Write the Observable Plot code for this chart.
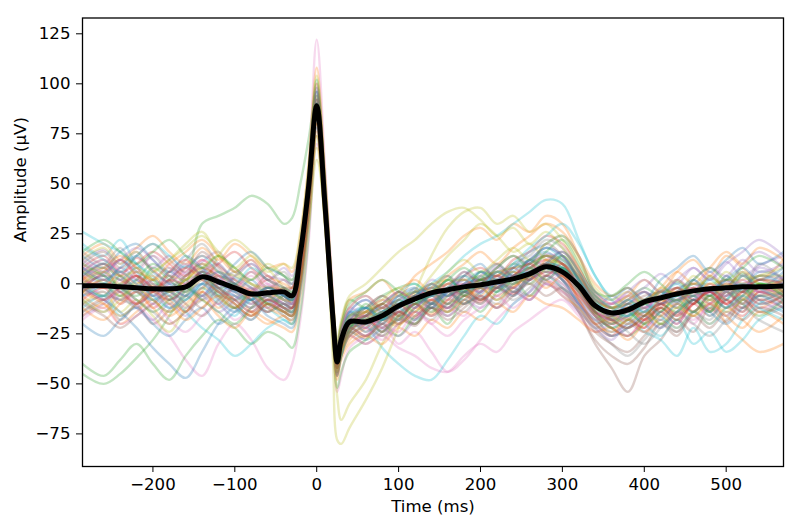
<!DOCTYPE html>
<html><head><meta charset="utf-8">
<script src="https://cdn.jsdelivr.net/npm/d3@7"></script>
<script src="https://cdn.jsdelivr.net/npm/@observablehq/plot@0.6"></script>
<style>body{margin:0;background:#fff}</style>
</head><body><div id="chart"></div>
<script>
const timesMs = [-286,-260,-240,-220,-200,-180,-160,-140,-120,-100,-80,-60,-40,-30,-20,-10,0,10,20,25,30,40,60,80,100,120,140,160,180,200,220,240,260,280,300,320,340,360,380,400,420,440,460,480,500,520,540,570];
const meanTrace = [-1,-1,-1.5,-2,-2.5,-2.5,-1.5,3.5,1,-2,-5,-4.5,-4,-6,15,48,89,40,-18,-39,-28,-19,-19,-16,-11,-7.5,-4.5,-3,-1.5,-0.5,1,2.5,5,8.5,6,-1,-11,-14.5,-13,-9,-7,-5,-3.5,-2.5,-2,-1.5,-1.5,-1];
const epochTraces = [
[8,5,12,6,-3,2,9,4,-6,3,-2,-9,-3,-6,12,46,92,44,-15,-36,-27,-15,-12,-20,-8,-3,-12,-4,2,-5,6,3,12,9,14,2,-8,-17,-10,-14,-3,-9,2,-6,4,-3,6,3],
[-6,-12,-4,-10,-1,-8,-14,-2,-7,-12,-4,-10,-14,-12,4,40,84,38,-22,-43,-33,-24,-27,-18,-21,-12,-15,-8,-10,0,-6,-1,3,10,2,-6,-15,-19,-12,-16,-8,-12,-4,-10,-2,-7,-12,-5],
[-45,-50,-45,-37,-28,-16,-2,30,34,38,44,40,30,33,50,72,96,52,-10,-32,-22,-8,-12,-6,-2,0,-5,2,-3,6,4,10,7,14,8,3,-6,-12,-8,-2,-6,1,-4,3,-1,5,0,2],
[3,10,4,13,7,1,8,14,9,2,-3,4,-5,-8,10,44,88,40,-20,-42,-30,-22,-16,-24,-14,-17,-10,-12,-6,-9,-2,-5,2,6,4,-4,-14,-20,-17,-22,-10,-15,-8,-13,-4,-10,-2,-6],
[12,17,10,16,8,14,5,11,16,6,12,2,8,4,22,55,100,50,-12,-34,-24,-14,-8,-12,-4,-8,2,-2,6,1,9,4,11,15,12,4,-6,-10,-6,-2,5,0,8,2,11,4,9,14],
[-14,-8,-18,-11,-20,-13,-6,-12,-3,-10,-16,-8,-12,-15,0,36,78,32,-24,-45,-36,-26,-22,-26,-17,-21,-12,-16,-10,-7,-12,-4,-8,1,-3,-14,-30,-42,-54,-36,-28,-18,-24,-12,-19,-8,-14,-11],
[4,-6,2,-10,-18,-26,-38,-46,-30,-20,-28,-42,-48,-40,-18,20,70,36,-30,-54,-46,-32,-26,-20,-30,-24,-34,-44,-38,-28,-18,-10,-4,2,-2,-10,-20,-16,-12,-20,-10,-6,-14,-4,2,-8,-2,-6],
[0,6,-2,4,-6,1,-4,7,2,-3,-8,-1,-6,-9,8,42,86,38,-20,-40,-30,-21,-17,-12,-15,-6,-9,-2,-5,3,-1,6,2,11,7,-2,-13,-17,-14,-10,-6,-9,-2,-6,1,-4,2,0],
[-10,-4,-14,-8,-16,-24,-12,-4,14,22,16,8,-2,-6,6,30,62,34,-40,-78,-80,-72,-58,-42,-22,-4,14,28,36,38,30,34,26,30,22,8,-6,-12,-18,-10,-14,-4,-10,-2,-8,0,-6,-3],
[20,14,22,10,4,-8,-2,6,-4,-12,-6,-14,-10,-14,6,40,90,44,-16,-38,-26,-14,-20,-32,-40,-46,-48,-38,-26,-16,-20,-10,-4,4,-2,-8,-16,-22,-18,-24,-28,-36,-22,-34,-30,-18,-10,-4],
[-2,-8,-14,-22,-32,-40,-47,-34,-20,-12,-18,-10,-16,-18,2,38,82,36,-22,-44,-32,-24,-28,-22,-18,-10,-14,-6,-2,4,-2,8,12,16,10,0,-10,-16,-12,-8,-14,-6,-10,-2,-8,4,-2,6],
[14,20,12,18,24,16,10,18,12,20,14,8,10,6,24,60,108,56,-8,-30,-20,-8,-4,2,-6,4,10,16,24,28,22,30,26,34,30,14,-4,-10,-6,2,-4,6,12,4,14,8,2,12],
[-40,-46,-38,-30,-40,-48,-36,-26,-18,-22,-30,-24,-28,-32,-14,24,74,30,-28,-52,-44,-34,-28,-20,-26,-16,-12,-20,-8,-14,-4,2,-6,4,8,-4,-16,-22,-26,-20,-12,-18,-8,-14,-4,-10,0,-6],
[-8,-2,-10,-4,-12,-6,-14,-4,-10,-2,-8,-14,-6,-10,10,46,90,42,-18,-40,-29,-20,-14,-8,-12,-4,-8,0,-4,2,-2,4,8,12,6,-8,-20,-26,-18,-22,-14,-20,-10,-16,-8,-12,-4,-8],
[6,0,8,2,-4,4,-2,6,10,0,-6,-12,-4,-2,16,52,96,48,-12,-34,-23,-14,-20,-14,-8,-12,-4,-8,2,-2,8,2,10,14,10,0,-12,-6,-10,-4,-8,2,-4,6,-2,10,16,8],
[2,8,-2,6,0,-6,4,10,2,-4,-10,-4,-8,-12,4,38,80,36,-24,-46,-34,-26,-30,-24,-18,-20,-12,-14,-6,-10,-2,-6,4,0,-4,-14,-28,-36,-40,-32,-20,-26,-14,-10,-4,-12,-6,-2],
[10,4,12,6,14,8,2,10,4,-2,6,0,-4,-2,18,56,122,60,-6,-30,-24,-12,-16,-10,-4,-8,-2,-6,0,-4,4,0,8,12,16,6,-4,-10,-4,-12,-6,-2,-8,0,-6,2,-4,4],
[16,10,18,8,14,6,12,20,10,4,10,2,6,2,20,54,98,46,-14,-36,-26,-16,-12,-6,-10,-2,-6,2,-2,6,2,10,14,22,18,6,-8,-12,-8,-12,-4,-10,-2,-8,4,-4,10,2],
[-4,2,-6,0,6,12,20,26,14,8,2,10,4,0,14,42,68,30,-30,-56,-68,-60,-48,-30,-16,-6,4,14,22,30,24,16,20,12,10,0,-10,-18,-12,-16,-8,-12,-2,-8,0,-6,2,-2],
[-12,-6,-16,-10,-4,-12,-8,-2,-10,-16,-6,-12,-18,-20,0,38,86,40,-20,-42,-32,-22,-12,-16,-6,-10,0,6,14,20,24,30,36,42,40,22,4,-6,-2,-10,-4,-12,-6,-16,-8,-2,-10,-6],
[4,10,2,8,-2,6,0,-6,2,-4,2,-6,-2,-4,14,48,94,46,-16,-38,-27,-18,-22,-14,-18,-8,-12,-4,-8,0,-4,4,0,8,2,-10,-18,-24,-20,-14,-18,-10,-14,-6,-12,-2,-8,-14],
[-16,-10,-20,-14,-8,-16,-10,-4,-12,-6,-14,-20,-16,-20,-2,34,76,34,-24,-46,-36,-28,-22,-16,-20,-12,-6,-10,-2,-6,2,-2,6,2,-6,-12,-20,-16,-12,-18,-10,-4,-14,-6,-20,-28,-34,-30],
[0,-6,4,-2,8,2,-4,4,-2,-8,-4,-10,-6,-8,10,44,88,42,-20,-42,-36,-22,-18,-24,-16,-20,-10,-14,-6,-2,-8,0,4,10,6,-2,-12,-18,-22,-16,-10,-14,-6,-12,-2,-8,0,-4],
[8,14,6,10,16,10,4,12,6,0,-4,2,-6,-8,12,50,92,44,-18,-40,-28,-18,-14,-10,-4,-8,0,-4,4,8,4,12,16,24,20,8,-6,-12,-8,-4,-10,-2,-8,-4,-10,-16,-8,-12],
[-6,0,-8,-2,-10,-4,-12,-6,0,-6,-12,-6,-10,-12,6,42,86,40,-20,-40,-30,-20,-16,-12,-18,-8,-4,-10,0,-4,4,-2,6,2,8,0,-14,-18,-14,-10,-4,-8,2,8,4,12,6,10],
[6,12,4,-2,-8,-14,-8,-2,4,-2,-8,-2,-6,-10,8,42,84,38,-20,-42,-32,-22,-26,-18,-12,-6,-10,-2,-6,0,6,2,8,14,10,-2,-16,-26,-22,-18,-12,-16,-8,-14,-6,-2,-8,-4],
[-18,-12,-20,-16,-10,-18,-24,-16,-10,-18,-12,-6,-14,-16,2,38,80,36,-24,-44,-34,-26,-30,-26,-32,-36,-42,-44,-36,-30,-34,-24,-18,-12,-8,-16,-24,-20,-26,-18,-22,-14,-20,-10,-16,-6,-12,-8],
[-8,-14,-6,-12,-4,-10,-2,-8,-4,-12,-18,-10,-14,-16,2,40,84,38,-22,-44,-34,-24,-20,-26,-20,-14,-18,-10,-14,-6,-10,-2,-6,4,0,-10,-22,-30,-36,-28,-20,-24,-14,-18,-8,-14,-6,-10],
[12,18,10,16,6,12,18,24,16,8,14,6,10,8,26,58,104,54,-8,-28,-18,-6,0,8,16,22,30,36,38,32,24,28,20,26,18,6,-8,-12,-6,-10,-2,-6,4,-2,6,0,4,8],
[26,20,16,10,2,-6,-14,-22,-28,-36,-30,-22,-18,-20,-2,36,82,40,-22,-44,-36,-24,-16,-10,-4,0,-6,2,-4,6,2,10,18,24,30,20,4,-8,-14,-20,-26,-18,-30,-24,-34,-28,-18,-12],
[-2,4,-4,2,-6,0,-2,6,0,-4,-8,-2,-6,-8,12,46,88,40,-18,-38,-28,-18,-20,-14,-10,-6,-2,-6,0,2,-2,4,6,10,8,0,-10,-14,-12,-8,-4,-6,0,-4,2,-2,4,0],
[4,-2,6,0,4,-4,2,8,4,0,-4,-8,-2,-4,16,50,92,42,-16,-36,-26,-16,-14,-18,-12,-8,-4,0,2,-2,4,6,2,12,10,2,-8,-12,-16,-10,-8,-2,-6,0,-4,4,-2,2],
[-4,0,-2,-6,0,-4,2,4,-2,0,-6,-4,-8,-10,8,44,90,42,-18,-40,-30,-20,-18,-14,-10,-8,-6,-2,-4,0,2,0,4,8,4,-4,-12,-16,-12,-10,-6,-8,-4,-6,-2,-4,0,-2],
[2,-2,0,4,-2,2,0,6,2,-2,-6,-2,-4,-6,14,48,90,40,-18,-38,-28,-20,-18,-16,-12,-6,-4,-2,0,2,4,2,6,10,6,-2,-12,-14,-14,-10,-8,-4,-2,-4,0,-2,2,0],
[-6,-4,-8,-4,-8,-2,-6,2,-4,-6,-10,-6,-10,-10,6,40,86,38,-22,-40,-30,-22,-20,-18,-14,-10,-8,-6,-4,-2,0,-2,2,6,2,-6,-14,-18,-16,-12,-10,-8,-6,-4,-6,-2,-4,-6],
[0,4,2,-2,2,-2,4,8,4,2,-2,-6,-2,-2,18,52,94,44,-16,-36,-26,-16,-16,-12,-8,-4,-2,0,4,2,6,8,10,14,10,4,-8,-12,-10,-6,-4,-2,0,-2,2,0,4,2],
[8,2,6,2,0,-4,0,6,0,-2,-4,0,-4,-6,12,44,88,40,-20,-40,-30,-20,-22,-16,-12,-8,-6,-4,-2,-4,2,4,8,6,4,-4,-14,-16,-14,-12,-6,-4,-2,0,-4,0,-2,-4],
[-10,-6,-8,-10,-6,-8,-4,0,-6,-8,-12,-8,-10,-12,4,38,84,36,-22,-42,-32,-22,-20,-18,-14,-10,-6,-6,-2,-2,-2,0,4,8,4,-4,-14,-18,-16,-14,-10,-8,-6,-8,-6,-4,-6,-4],
[6,8,4,6,2,4,2,10,6,4,0,-2,-2,-4,16,50,94,44,-16,-36,-26,-16,-14,-10,-6,-4,0,2,2,4,6,8,10,14,12,4,-8,-12,-10,-8,-4,-4,0,0,2,2,4,4],
[-2,-6,0,-4,-8,-4,-8,0,-2,-6,-8,-4,-8,-10,10,46,88,40,-20,-40,-30,-20,-18,-14,-12,-8,-6,-2,-4,0,-2,4,6,10,8,-2,-10,-14,-16,-10,-8,-6,-4,-2,-2,0,-2,0],
[14,8,16,20,12,6,14,8,2,10,16,8,4,0,18,52,96,46,-14,-34,-24,-14,-8,-14,-6,-2,-10,-4,4,10,2,8,16,20,24,14,-4,-8,-2,-8,2,8,14,6,12,18,10,16],
[-12,-18,-10,-4,-12,-20,-14,-8,-16,-22,-14,-18,-22,-24,-6,30,74,30,-26,-48,-38,-30,-26,-30,-22,-26,-18,-22,-14,-18,-10,-14,-6,-10,-12,-18,-24,-22,-28,-20,-16,-22,-14,-20,-12,-18,-24,-16],
[6,0,-6,2,10,4,-2,6,-6,-12,-4,-10,-14,-16,2,40,84,38,-22,-42,-34,-24,-10,-18,-8,-14,-4,4,-6,2,10,4,12,6,14,2,-14,-22,-18,-12,-20,-14,-8,-14,-4,-10,-16,-8],
[-2,6,12,4,-4,6,12,4,10,16,8,2,-2,-6,14,48,92,44,-16,-36,-26,-18,-24,-16,-10,-16,-8,-12,-4,-8,0,8,2,10,16,6,-10,-16,-12,-18,-12,-4,-10,-2,-8,-14,-4,-10],
[-16,-10,-4,-12,-18,-10,-16,-6,-14,-8,-2,-8,-12,-14,4,40,86,40,-20,-40,-30,-20,-16,-22,-26,-18,-10,-16,-8,-12,-6,-2,-8,0,-6,-14,-22,-28,-20,-24,-14,-20,-8,-4,-12,-6,8,2],
[10,16,8,14,20,12,6,16,8,0,6,-2,2,-2,16,50,90,42,-18,-38,-28,-18,-12,-6,-12,-4,-10,-2,6,0,8,14,10,20,14,2,-10,-14,-10,-16,-8,-2,-6,4,-2,6,-4,2],
[0,-8,-2,-10,-4,-12,-6,0,-8,-14,-6,-12,-8,-10,8,44,88,40,-20,-40,-30,-22,-26,-20,-24,-14,-20,-12,-16,-6,-12,-4,-8,0,-4,-10,-18,-14,-20,-14,-6,-12,-18,-10,-4,-10,-2,-8],
[4,10,4,-4,2,8,2,-6,0,6,0,-6,-10,-12,6,42,86,40,-20,-40,-30,-20,-14,-20,-12,-6,-12,-4,-10,-2,4,-4,2,8,2,-8,-18,-20,-16,-10,-16,-10,-4,-10,-16,-8,-14,-8],
[-8,-14,-8,-2,-8,-14,-6,2,-4,-10,-16,-10,-14,-16,2,38,80,36,-24,-44,-34,-24,-18,-12,-18,-10,-14,-6,-2,-8,0,6,0,8,14,4,-10,-16,-20,-14,-20,-12,-16,-8,-14,-8,-2,-8],
[18,12,6,14,20,14,8,14,6,0,8,2,-2,-4,14,48,92,44,-16,-36,-26,-16,-12,-18,-10,-4,-10,-2,4,-2,6,2,10,18,12,2,-8,-14,-8,-14,-6,0,-6,2,-4,4,-2,-8],
[-20,-26,-18,-12,-20,-26,-18,-12,-20,-14,-8,-16,-20,-22,-4,34,78,34,-24,-46,-36,-26,-20,-14,-20,-12,-6,-12,-4,-8,0,-6,2,8,2,-10,-20,-26,-22,-16,-22,-14,-8,-14,-20,-12,-6,-12],
[2,8,14,8,2,10,16,22,14,6,12,4,0,-2,18,54,100,50,-12,-32,-22,-12,-6,-12,-4,2,-4,4,10,16,10,18,24,30,26,14,0,-6,-2,-8,-2,6,0,8,16,10,18,12],
[10,4,-2,-8,-14,-8,-2,-8,-14,-20,-12,-6,-12,-14,4,40,84,38,-22,-42,-32,-22,-16,-10,-16,-10,-4,-10,-4,2,-4,2,8,2,8,-2,-14,-20,-14,-20,-14,-8,-14,-6,-12,-6,0,-6],
[-4,2,-4,-10,-4,2,8,2,-4,-10,-16,-10,-14,-16,2,38,82,36,-22,-42,-32,-24,-18,-22,-14,-18,-10,-4,-10,-4,2,-4,4,10,4,-6,-16,-22,-26,-18,-12,-18,-10,-4,-10,-4,2,-4],
[12,6,12,18,12,4,10,4,-2,4,10,4,2,0,18,52,98,48,-12,-32,-22,-12,-6,-12,-6,-12,-2,4,-2,4,10,4,12,18,14,4,-8,-10,-4,2,-4,2,8,2,10,16,22,14],
[-10,-16,-22,-16,-10,-4,-10,-16,-8,-2,-8,-14,-10,-12,6,42,86,40,-20,-42,-32,-22,-26,-20,-14,-20,-12,-18,-12,-6,-12,-6,0,-6,-2,-12,-24,-30,-34,-26,-18,-24,-16,-22,-14,-18,-12,-16],
[6,12,6,0,-6,0,6,12,4,-2,4,-4,-8,-10,10,46,90,42,-18,-38,-28,-18,-22,-28,-20,-14,-20,-26,-18,-12,-6,-12,-4,4,0,-8,-16,-10,-6,-12,-4,2,-4,-10,-4,2,-4,0],
[-14,-8,-2,-8,-14,-20,-14,-8,-2,-8,-14,-8,-12,-14,4,40,84,38,-22,-42,-32,-24,-18,-24,-16,-10,-16,-10,-4,-10,-2,-8,-2,4,-2,-12,-22,-18,-24,-30,-22,-14,-20,-26,-18,-12,-18,-24],
[0,6,0,8,2,-4,2,8,14,6,0,-4,-8,-8,12,48,90,42,-18,-38,-30,-20,-14,-8,-2,-8,-2,6,12,6,12,18,12,20,24,12,-2,-8,-4,-10,-4,2,-4,4,-2,6,0,-4],
[-6,0,6,0,-6,-12,-6,0,-8,-14,-8,-2,-6,-8,10,46,90,42,-18,-38,-28,-18,-24,-18,-12,-18,-10,-4,-10,-4,2,-4,4,10,16,6,-6,-12,-16,-10,-16,-22,-14,-20,-12,-6,-12,-18],
[8,2,8,14,6,0,-6,0,6,0,-6,-2,-6,-8,12,46,90,42,-18,-38,-28,-18,-12,-18,-12,-6,0,-6,0,6,0,6,12,18,14,2,-10,-16,-10,-4,-10,-4,2,-4,2,8,2,8],
[-4,-10,-16,-10,-4,-10,-18,-12,-6,-12,-6,-12,-16,-18,0,36,80,36,-24,-44,-34,-26,-20,-14,-20,-14,-8,-14,-8,-2,-8,-2,4,-2,4,-8,-20,-24,-18,-24,-16,-10,-16,-10,-16,-22,-14,-20],
[16,22,16,10,16,22,14,8,14,8,2,8,4,2,20,56,102,52,-10,-30,-20,-10,-4,2,-4,-10,-4,2,8,2,8,14,8,16,22,10,-4,-6,0,6,0,-6,2,8,2,8,14,8],
[-2,-8,-2,4,-2,-8,-2,4,-2,-8,-14,-8,-12,-12,6,42,86,40,-20,-40,-30,-20,-16,-10,-16,-10,-16,-8,-2,-8,-2,4,10,4,10,-2,-14,-18,-22,-16,-10,-16,-10,-4,-10,-4,-10,-6]
];
const tab10 = ["#1f77b4","#ff7f0e","#2ca02c","#d62728","#9467bd","#8c564b","#e377c2","#7f7f7f","#bcbd22","#17becf"];
const xTicks = [-200,-100,0,100,200,300,400,500];
const yTicks = [-75,-50,-25,0,25,50,75,100,125];
const xLabel = "Time (ms)";
const yLabel = "Amplitude (µV)";

const rows = [];
epochTraces.forEach((tr, k) => tr.forEach((v, i) => rows.push({t: timesMs[i], v, epoch: k, c: k % 10})));
const meanRows = meanTrace.map((v, i) => ({t: timesMs[i], v}));

const FS = 16.6;
const chart = Plot.plot({
  width: 800, height: 529,
  marginLeft: 82, marginRight: 17, marginTop: 17.5, marginBottom: 63,
  style: {fontFamily: "DejaVu Sans", fontSize: FS + "px", background: "#fff", color: "#000"},
  x: {domain: [-286, 570]},
  y: {domain: [-91.3, 132.9]},
  color: {type: "ordinal", domain: d3.range(10), range: tab10},
  marks: [
    Plot.line(rows, {x: "t", y: "v", z: "epoch", stroke: "c", strokeOpacity: 0.28, strokeWidth: 2.4, curve: "catmull-rom", clip: true}),
    Plot.line(meanRows, {x: "t", y: "v", stroke: "black", strokeWidth: 5, curve: "catmull-rom", clip: true}),
    Plot.frame({stroke: "black", strokeWidth: 1.3}),
    Plot.axisX({ticks: xTicks, tickSize: 6, tickPadding: 6, label: null, fontSize: FS}),
    Plot.axisY({ticks: yTicks, tickSize: 6, tickPadding: 6, label: null, fontSize: FS}),
    Plot.text([xLabel], {text: d => d, frameAnchor: "bottom", dy: 45, fontSize: FS, fill: "black"}),
    Plot.text([yLabel], {text: d => d, frameAnchor: "left", dx: -62, rotate: -90, fontSize: FS, fill: "black"})
  ]
});
document.getElementById("chart").appendChild(chart);
</script>
</body></html>
